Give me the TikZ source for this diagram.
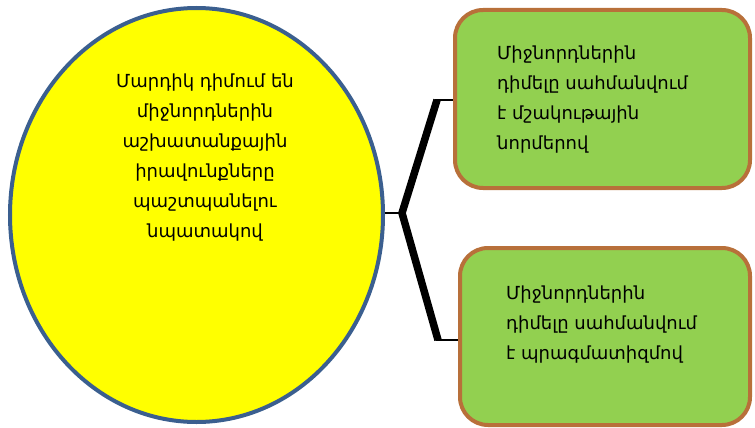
\documentclass[tikz,border=0pt]{standalone}
\usepackage{fontspec}
\setmainfont{DejaVu Sans}
\usetikzlibrary{shapes.geometric}
\definecolor{goalfill}{HTML}{FFFF00}
\definecolor{goaledge}{HTML}{3B5F8F}
\definecolor{boxfill}{HTML}{92D050}
\definecolor{boxedge}{HTML}{B8703A}
\tikzset{
  goalshape/.style={ellipse, draw=goaledge, fill=goalfill, line width=4pt,
    minimum width=373pt, minimum height=414pt, inner sep=0pt},
  optbox/.style={draw=boxedge, fill=boxfill, line width=4pt,
    rounded corners=28pt, inner sep=0pt},
  armtext/.style={font=\fontsize{18pt}{30pt}\selectfont, inner sep=0pt},
  forkline/.style={line width=7.5pt, line join=miter},
  tieline/.style={line width=2.5pt}
}
\begin{document}
\begin{tikzpicture}[x=1pt,y=-1pt]
  \useasboundingbox (0,0) rectangle (755,428);

  % left goal ellipse
  \node[goalshape] (goal) at (196.5,215) {};
  \node[armtext, align=center, anchor=north] (goaltxt) at (205,74)
    {Մարդիկ դիմում են\\միջնորդներին\\աշխատանքային\\իրավունքները\\պաշտպանելու\\նպատակով};

  % right option boxes
  \node[optbox, minimum width=295pt, minimum height=178pt] (top) at (602.5,99) {};
  \node[optbox, minimum width=290pt, minimum height=177pt] (bot) at (605,336.5) {};
  \node[armtext, align=left, anchor=north west] (toptxt) at (497,46)
    {Միջնորդներին\\դիմելը սահմանվում\\է մշակութային\\նորմերով};
  \node[armtext, align=left, anchor=north west] (bottxt) at (506,286)
    {Միջնորդներին\\դիմելը սահմանվում\\է պրագմատիզմով};

  % bracket joining the ellipse to both boxes
  \coordinate (fork) at (402,213);
  \coordinate (upbend) at (437,100);
  \coordinate (lowbend) at (438,340);
  \draw[tieline] (goal.east |- fork) -- (fork);
  \draw[forkline] (upbend) -- (fork) -- (lowbend);
  \draw[tieline] ([xshift=-2pt]upbend) -- (top.west |- upbend);
  \draw[tieline] ([xshift=-2pt]lowbend) -- (bot.west |- lowbend);
\end{tikzpicture}
\end{document}
